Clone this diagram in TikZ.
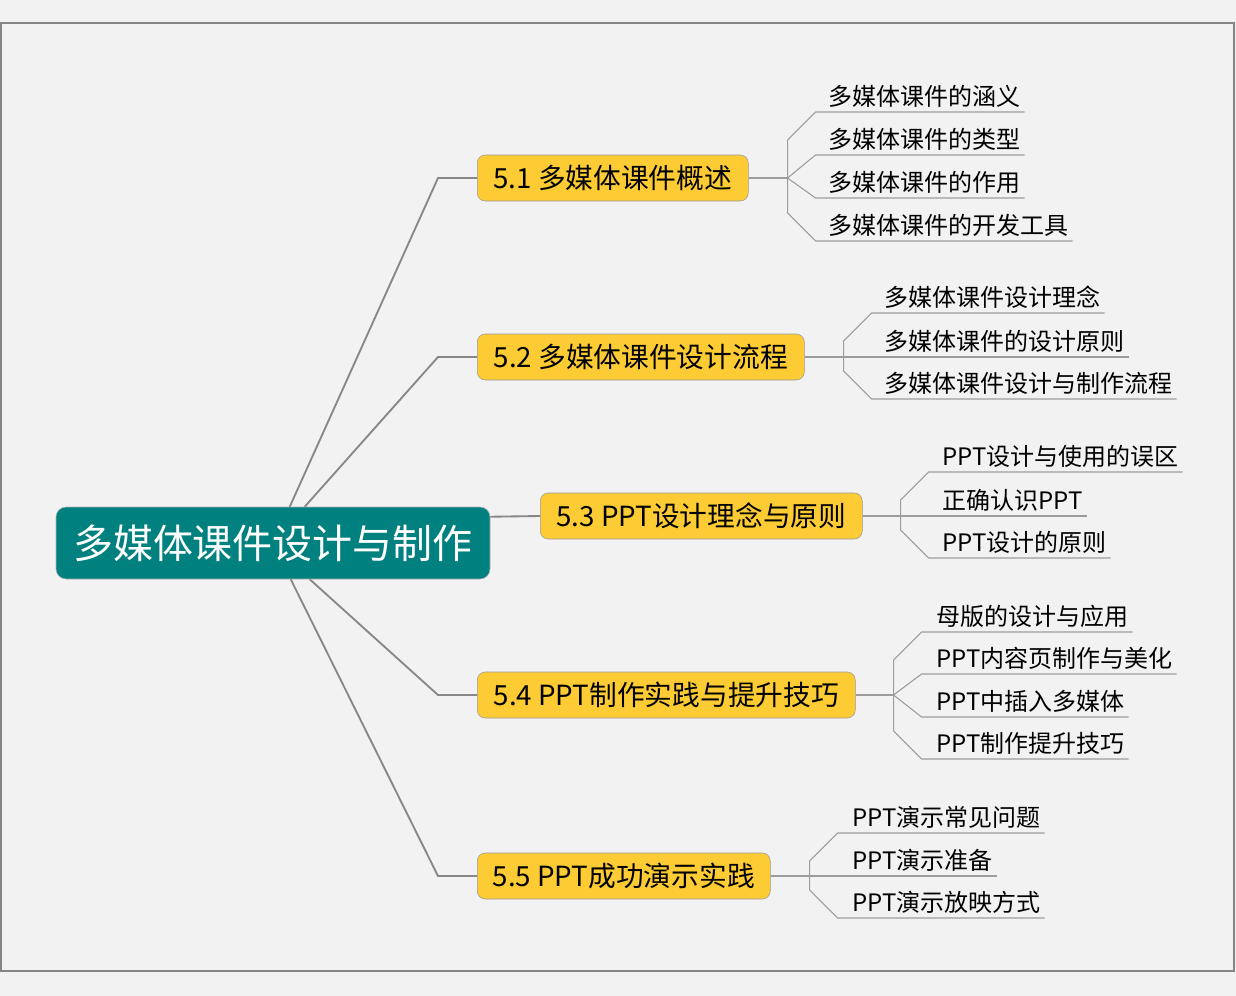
\documentclass[tikz,border=0pt]{standalone}
\usepackage{fontspec}
\setmainfont{Noto Sans CJK SC}
\usepackage{xcolor}
\usepackage{tikz}
\usetikzlibrary{positioning}

\definecolor{rootteal}{HTML}{00807F}
\definecolor{topicgold}{HTML}{FDCB33}
\definecolor{paper}{HTML}{F2F2F2}
\definecolor{framegray}{HTML}{858585}
\definecolor{branchgray}{HTML}{888888}
\definecolor{twiggray}{HTML}{9C9C9C}

\begin{document}
\begin{tikzpicture}[
  x=0.75pt, y=-0.75pt,
  root/.style   = {rectangle, rounded corners=7.5pt, draw=black!30, fill=rootteal,
                   text=white, minimum width=325.5pt, minimum height=54pt,
                   inner sep=0pt, font=\fontsize{30}{34}\selectfont},
  topic/.style  = {rectangle, rounded corners=6pt, draw=black!40, fill=topicgold,
                   minimum height=34.5pt, inner sep=0pt, anchor=west,
                   font=\fontsize{20.8}{24}\selectfont},
  leaf/.style   = {anchor=south west, inner xsep=3pt, inner ysep=3pt,
                   font=\fontsize{18}{21}\selectfont},
  branch/.style = {draw=branchgray, line width=1.4pt},
  twig/.style   = {draw=twiggray, line width=0.8pt}
]
% ── Paper and frame ──────────────────────────────────────────────────────────
\fill[paper] (0,0) rectangle (1236,996);
\draw[framegray, line width=1.1pt] (1,23) rectangle (1234,971);
\useasboundingbox (0,0) rectangle (1236,996);

% ── Root ──────────────────────────────────────────────────────────────────────
\node[root] (root) at (273,543) {多媒体课件设计与制作};

% ── Chapter topics ───────────────────────────────────────────────────────────
\node[topic, minimum width=203.25pt] (n1) at (477,178) {5.1 多媒体课件概述};
\node[topic, minimum width=245.25pt] (n2) at (477,357) {5.2 多媒体课件设计流程};
\node[topic, minimum width=241.5pt]  (n3) at (540,516) {5.3 PPT设计理念与原则};
\node[topic, minimum width=283.5pt]  (n4) at (477,695) {5.4 PPT制作实践与提升技巧};
\node[topic, minimum width=219.75pt] (n5) at (477,876) {5.5 PPT成功演示实践};

% ── Hubs ──────────────────────────────────────────────────────────────────────
\coordinate[right=29.25pt of n1] (h1);
\coordinate[right=29.25pt of n2] (h2);
\coordinate[right=28.5pt of n3]  (h3);
\coordinate[right=28.5pt of n4]  (h4);
\coordinate[right=29.25pt of n5] (h5);

% ── Sections ──────────────────────────────────────────────────────────────────
\node[leaf] (c11) at (824,112) {多媒体课件的涵义};
\node[leaf] (c12) at (824,155) {多媒体课件的类型};
\node[leaf] (c13) at (824,198) {多媒体课件的作用};
\node[leaf] (c14) at (824,241) {多媒体课件的开发工具};

\node[leaf] (c21) at (880,313) {多媒体课件设计理念};
\node[leaf] (c22) at (880,357) {多媒体课件的设计原则};
\node[leaf] (c23) at (880,399) {多媒体课件设计与制作流程};

\node[leaf] (c31) at (938,472) {PPT设计与使用的误区};
\node[leaf] (c32) at (938,516) {正确认识PPT};
\node[leaf] (c33) at (938,558) {PPT设计的原则};

\node[leaf] (c41) at (932,632) {母版的设计与应用};
\node[leaf] (c42) at (932,674) {PPT内容页制作与美化};
\node[leaf] (c43) at (932,717) {PPT中插入多媒体};
\node[leaf] (c44) at (932,759) {PPT制作提升技巧};

\node[leaf] (c51) at (848,833) {PPT演示常见问题};
\node[leaf] (c52) at (848,876) {PPT演示准备};
\node[leaf] (c53) at (848,918) {PPT演示放映方式};

% ── Root → topics ─────────────────────────────────────────────────────────────
\draw[branch] ([xshift=175.5pt]root.north west)  -- ([xshift=-29.25pt]n1.west) -- (n1.west);
\draw[branch] ([xshift=186.75pt]root.north west) -- ([xshift=-29.25pt]n2.west) -- (n2.west);
\draw[branch] ([yshift=-7.5pt]root.north east)   -- (n3.west);
\draw[branch] ([xshift=190.5pt]root.south west)  -- ([xshift=-29.25pt]n4.west) -- (n4.west);
\draw[branch] ([xshift=176.25pt]root.south west) -- ([xshift=-29.25pt]n5.west) -- (n5.west);

% ── 5.1 → sections ────────────────────────────────────────────────────────────
\draw[twig] (n1) -- (h1);
\draw[twig] (h1) -- ++(0,-38) -- ++(28,-28) -- (c11.south east);
\draw[twig] (h1) -- ++(28,-23) -- (c12.south east);
\draw[twig] (h1) -- ++(28,20) -- (c13.south east);
\draw[twig] (h1) -- ++(0,35) -- ++(28,28) -- (c14.south east);

% ── 5.2 → sections ────────────────────────────────────────────────────────────
\draw[twig] (n2) -- (h2);
\draw[twig] (h2) -- ++(0,-16) -- ++(28,-28) -- (c21.south east);
\draw[twig] (h2) -- (c22.south east);
\draw[twig] (h2) -- ++(0,14) -- ++(28,28) -- (c23.south east);

% ── 5.3 → sections ────────────────────────────────────────────────────────────
\draw[twig] (n3) -- (h3);
\draw[twig] (h3) -- ++(0,-16) -- ++(28,-28) -- (c31.south east);
\draw[twig] (h3) -- (c32.south east);
\draw[twig] (h3) -- ++(0,14) -- ++(28,28) -- (c33.south east);

% ── 5.4 → sections ────────────────────────────────────────────────────────────
\draw[twig] (n4) -- (h4);
\draw[twig] (h4) -- ++(0,-35) -- ++(28,-28) -- (c41.south east);
\draw[twig] (h4) -- ++(28,-21) -- (c42.south east);
\draw[twig] (h4) -- ++(28,22) -- (c43.south east);
\draw[twig] (h4) -- ++(0,36) -- ++(28,28) -- (c44.south east);

% ── 5.5 → sections ────────────────────────────────────────────────────────────
\draw[twig] (n5) -- (h5);
\draw[twig] (h5) -- ++(0,-15) -- ++(28,-28) -- (c51.south east);
\draw[twig] (h5) -- (c52.south east);
\draw[twig] (h5) -- ++(0,14) -- ++(28,28) -- (c53.south east);
\end{tikzpicture}
\end{document}
